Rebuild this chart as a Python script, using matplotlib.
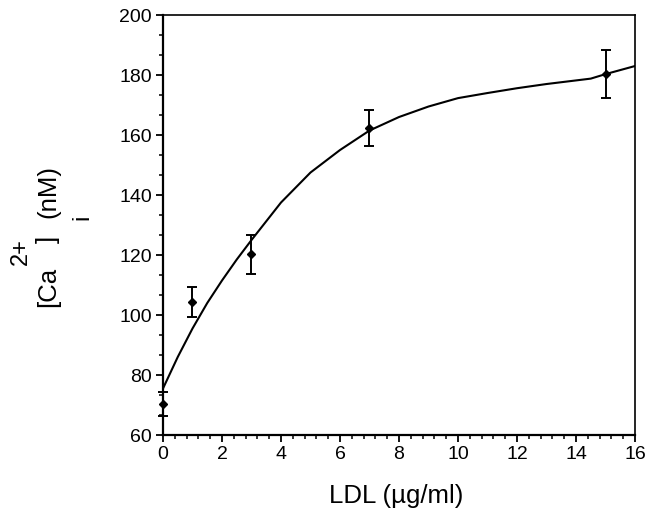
import matplotlib.pyplot as plt
from matplotlib.ticker import MultipleLocator, AutoMinorLocator

plt.rcParams['font.family'] = ['Liberation Sans', 'DejaVu Sans']

# measured points
ldl = [0, 1, 3, 7, 15]
ca = [70.3, 104.3, 120.3, 162.2, 180.2]
ca_err = [4, 5, 6.5, 6, 8]

# fitted curve as drawn
fit_x = [0, 0.5, 1, 1.5, 2, 2.5, 3, 4, 5, 6, 7, 8, 9, 10, 11, 12, 13, 14, 14.5, 15, 16]
fit_y = [75.5, 86, 95.5, 104, 111.5, 118.5, 125, 137.5, 147.5, 155, 161.5, 166,
         169.5, 172.3, 174, 175.6, 177, 178.2, 178.8, 180.3, 183]

fig = plt.figure(figsize=(6.46, 5.11), dpi=100)
ax = fig.add_axes([0.2523, 0.1487, 0.7307, 0.8219])

ax.plot(fit_x, fit_y, color='black', lw=1.5)
ax.errorbar(ldl, ca, yerr=ca_err, fmt='D', color='black', ms=4.5,
            elinewidth=1.4, capsize=3.8, capthick=1.4, clip_on=False, zorder=3)

ax.set_xlim(0, 16)
ax.set_ylim(60, 200)
ax.xaxis.set_major_locator(MultipleLocator(2))
ax.xaxis.set_minor_locator(AutoMinorLocator(5))
ax.yaxis.set_major_locator(MultipleLocator(20))
ax.yaxis.set_minor_locator(AutoMinorLocator(3))
ax.tick_params(which='major', direction='out', length=5, width=1.3, labelsize=14, pad=3)
ax.tick_params(which='minor', direction='out', length=3, width=1.1)

for side in ['left', 'bottom']:
    ax.spines[side].set_linewidth(1.6)
for side in ['top', 'right']:
    ax.spines[side].set_linewidth(1.2)

# axis labels
fig.text(0.613, 0.029, 'LDL (\u00b5g/ml)', ha='center', va='center', fontsize=18.5)
fig.text(0.0743, 0.399, '[Ca', rotation=90, ha='center', va='bottom', fontsize=18.5)
fig.text(0.0743, 0.532, ']', rotation=90, ha='center', va='center', fontsize=18.5)
fig.text(0.0743, 0.677, '(nM)', rotation=90, ha='center', va='top', fontsize=18.5)
fig.text(0.032, 0.507, '2+', rotation=90, ha='center', va='center', fontsize=17)
fig.text(0.127, 0.575, 'i', rotation=90, ha='center', va='center', fontsize=17)

fig.savefig('out.png', dpi=100)
